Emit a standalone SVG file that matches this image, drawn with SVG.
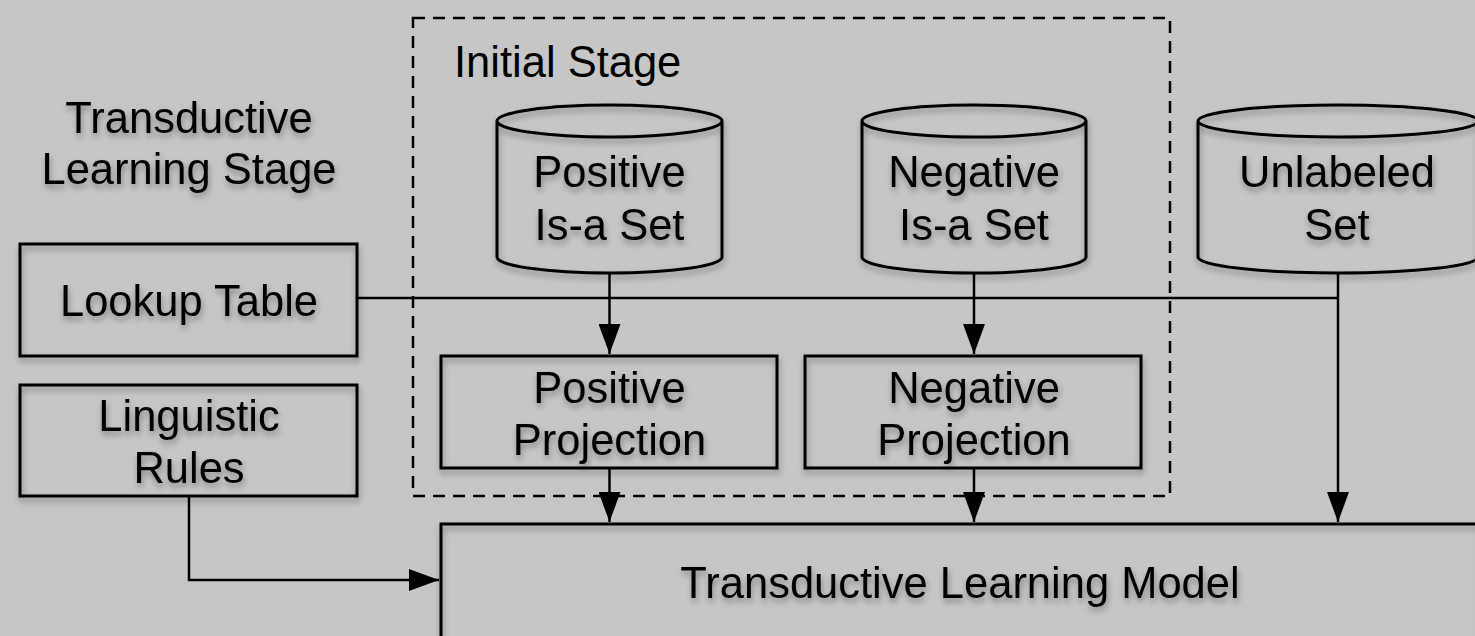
<svg xmlns="http://www.w3.org/2000/svg" width="1475" height="636" viewBox="0 0 1475 636">
<style>
.shape{fill:none;stroke:#000;stroke-width:3}
.line{fill:none;stroke:#000;stroke-width:2.5}
.dash{fill:none;stroke:#000;stroke-width:2.5;stroke-dasharray:12 8}
text{font-family:"Liberation Sans",Arial,Helvetica,sans-serif;font-size:43.5px;fill:#000;text-anchor:middle}
.sh{filter:url(#shadow)}
</style>
<defs>
<filter id="shadow" x="-10%" y="-10%" width="130%" height="140%">
<feDropShadow dx="1" dy="4" stdDeviation="3" flood-color="#000" flood-opacity="0.35"/>
</filter>
<marker id="arr" viewBox="0 0 30 22" refX="30" refY="11" markerWidth="30" markerHeight="22" markerUnits="userSpaceOnUse" orient="auto">
<path d="M0,0 L30,11 L0,22 Z" fill="#000"/>
</marker>
</defs>
<rect width="1475" height="636" fill="#c5c6c5"/>
<g id="initial-stage">
<rect class="dash" x="413" y="18" width="757" height="478"/>
<text x="454" y="77" style="text-anchor:start">Initial Stage</text>
</g>
<g id="transductive-stage-label" class="sh">
<text x="189" y="133">Transductive</text>
<text x="189" y="184">Learning Stage</text>
</g>
<g id="connectors">
<path class="line" d="M357,298 H1338"/>
<path class="line" d="M1338,272 V522" marker-end="url(#arr)"/>
<path class="line" d="M609.5,272 V354" marker-end="url(#arr)"/>
<path class="line" d="M974,272 V354" marker-end="url(#arr)"/>
<path class="line" d="M609.5,468 V522" marker-end="url(#arr)"/>
<path class="line" d="M974,468 V522" marker-end="url(#arr)"/>
<path class="line" d="M189,496 V580 H439" marker-end="url(#arr)"/>
</g>
<g id="lookup-table">
<rect class="shape sh" x="20" y="244" width="337" height="112"/>
<text class="sh" x="189" y="316">Lookup Table</text>
</g>
<g id="linguistic-rules">
<rect class="shape sh" x="20" y="385" width="337" height="111"/>
<text class="sh" x="189" y="431">Linguistic</text>
<text class="sh" x="189" y="483">Rules</text>
</g>
<g id="positive-set">
<path class="shape sh" d="M497,121 V257 A112.5,16 0 0 0 722,257 V121 A112.5,16 0 0 0 497,121 A112.5,16 0 0 0 722,121"/>
<text class="sh" x="609.5" y="187">Positive</text>
<text class="sh" x="609.5" y="240">Is-a Set</text>
</g>
<g id="negative-set">
<path class="shape sh" d="M862,121 V257 A112,16 0 0 0 1086,257 V121 A112,16 0 0 0 862,121 A112,16 0 0 0 1086,121"/>
<text class="sh" x="974" y="187">Negative</text>
<text class="sh" x="974" y="240">Is-a Set</text>
</g>
<g id="unlabeled-set">
<path class="shape sh" d="M1198,121 V257 A140,16 0 0 0 1478,257 V121 A140,16 0 0 0 1198,121 A140,16 0 0 0 1478,121"/>
<text class="sh" x="1337" y="187">Unlabeled</text>
<text class="sh" x="1337" y="240">Set</text>
</g>
<g id="positive-projection">
<rect class="shape sh" x="441" y="356" width="336" height="112"/>
<text class="sh" x="609.5" y="403">Positive</text>
<text class="sh" x="609.5" y="455">Projection</text>
</g>
<g id="negative-projection">
<rect class="shape sh" x="805" y="356" width="336" height="112"/>
<text class="sh" x="974" y="403">Negative</text>
<text class="sh" x="974" y="455">Projection</text>
</g>
<g id="model">
<rect class="shape sh" x="441" y="524" width="1040" height="120"/>
<text class="sh" x="960" y="598">Transductive Learning Model</text>
</g>
</svg>
